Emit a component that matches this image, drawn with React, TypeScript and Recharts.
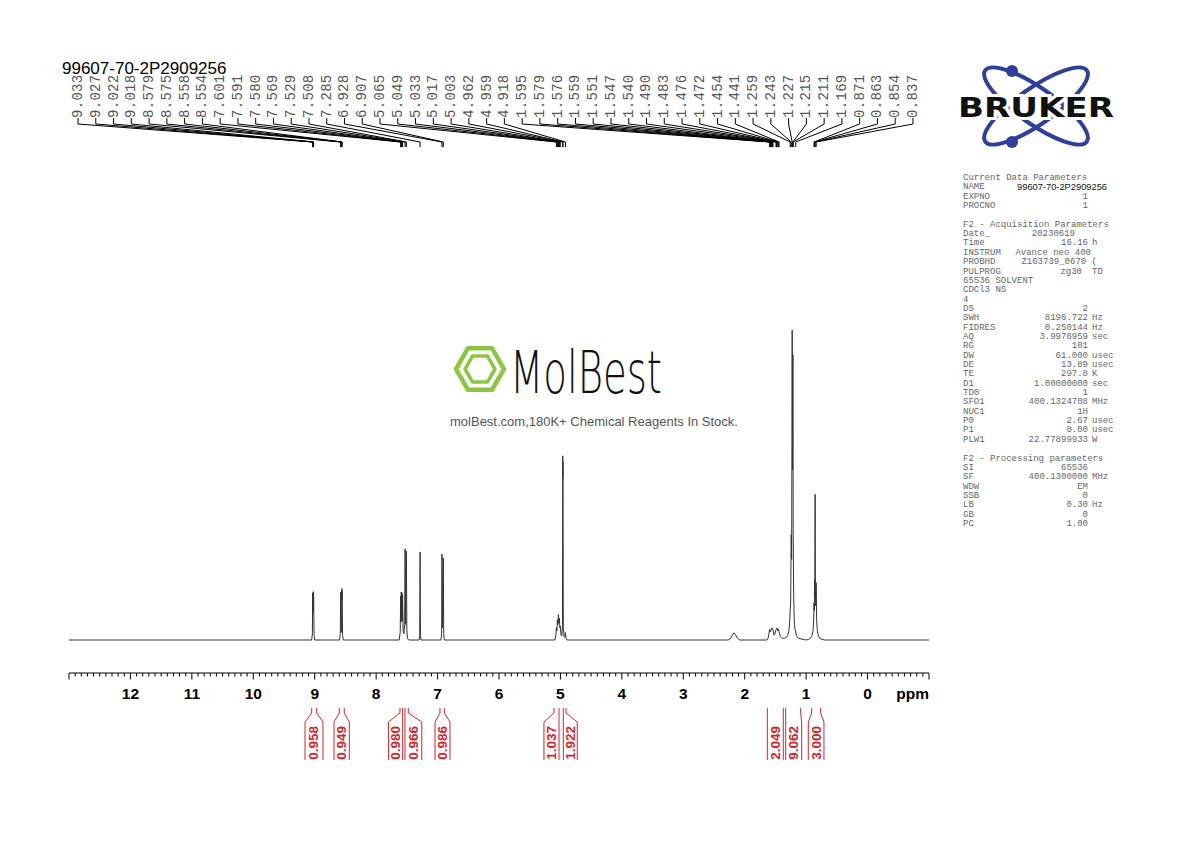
import { ComposedChart, Line, Scatter, XAxis, YAxis, ReferenceLine, ReferenceDot } from "recharts"

const sampleName = "99607-70-2P2909256"

// 1H trace: [ppm, intensity], 100 = the tallest line (1.227)
const trace: [number, number][] = [
  [13, 0],
  [9.05, 0], [9.038, 2], [9.033, 15.2], [9.03, 9], [9.027, 13.5], [9.024, 9], [9.022, 15.6], [9.02, 10], [9.018, 13.8], [9.01, 1.5], [9.0, 0],
  [8.595, 0], [8.584, 2], [8.579, 14.8], [8.577, 12], [8.575, 15.4], [8.568, 2.5], [8.562, 2.5], [8.558, 16.6], [8.556, 13], [8.554, 15.8], [8.546, 1.5], [8.535, 0],
  [7.625, 0], [7.608, 2.5], [7.601, 14.2], [7.596, 6], [7.591, 15.5], [7.585, 6], [7.58, 15.3], [7.575, 6], [7.569, 14.6], [7.56, 2.5],
  [7.548, 2], [7.535, 5], [7.529, 29.4], [7.52, 5], [7.508, 28.7], [7.5, 3], [7.49, 0.5], [7.47, 0],
  [7.3, 0], [7.291, 1.5], [7.285, 28.4], [7.279, 1.5], [7.27, 0],
  [6.945, 0], [6.934, 2], [6.928, 27.7], [6.918, 4], [6.907, 26.4], [6.9, 2], [6.89, 0],
  [5.09, 0], [5.075, 1.5], [5.065, 4], [5.057, 3], [5.049, 6.5], [5.041, 5], [5.033, 8.2], [5.025, 5.5], [5.017, 7], [5.01, 4], [5.003, 4.5], [4.99, 1.5],
  [4.975, 1.5], [4.967, 5], [4.962, 59.4], [4.9605, 52], [4.959, 57.5], [4.953, 4], [4.94, 1], [4.925, 1], [4.918, 2.4], [4.91, 0.6], [4.895, 0],
  [2.27, 0], [2.23, 0.5], [2.2, 1.6], [2.175, 2.3], [2.15, 1.7], [2.12, 0.6], [2.08, 0],
  [1.64, 0], [1.615, 0.8], [1.595, 3.4], [1.587, 2.6], [1.579, 3.1], [1.576, 3.0], [1.559, 3.9], [1.551, 3.4], [1.547, 3.6], [1.54, 3.2], [1.525, 1.6],
  [1.51, 1.8], [1.49, 3.4], [1.483, 3.5], [1.476, 3.9], [1.472, 3.8], [1.462, 3.0], [1.454, 3.5], [1.441, 2.7], [1.42, 1.1], [1.39, 0.5],
  [1.35, 0.6], [1.32, 0.9], [1.3, 1.5], [1.285, 2.6], [1.272, 4.5], [1.264, 7.5], [1.259, 10], [1.252, 12], [1.243, 34], [1.236, 26],
  [1.227, 100], [1.221, 55], [1.215, 92], [1.211, 36], [1.203, 14], [1.193, 6], [1.182, 3.5], [1.169, 2.6], [1.158, 1.4], [1.14, 0.8], [1.1, 0.4], [1.05, 0.2], [1.0, 0],
  [0.96, 0.2], [0.93, 0.6], [0.905, 1.4], [0.888, 3], [0.877, 6.5], [0.871, 12], [0.867, 9.5], [0.863, 19.5], [0.859, 14], [0.854, 47],
  [0.849, 15], [0.843, 11], [0.837, 18.5], [0.83, 7], [0.818, 3], [0.8, 1.3], [0.775, 0.5], [0.74, 0.2], [0.7, 0],
  [-1, 0],
]

// picked peaks, in the order printed across the top
const peakLabels = [
  "9.033", "9.027", "9.022", "9.018", "8.579", "8.575", "8.558", "8.554",
  "7.601", "7.591", "7.580", "7.569", "7.529", "7.508", "7.285", "6.928", "6.907",
  "5.065", "5.049", "5.033", "5.017", "5.003", "4.962", "4.959", "4.918",
  "1.595", "1.579", "1.576", "1.559", "1.551", "1.547", "1.540",
  "1.490", "1.483", "1.476", "1.472", "1.454", "1.441",
  "1.259", "1.243", "1.227", "1.215", "1.211", "1.169",
  "0.871", "0.863", "0.854", "0.837",
]

// integral regions (ppm) and the bracket's outer edges
const integrals = [
  { value: "0.958", from: 9.049, to: 8.968, outFrom: 9.158, outTo: 8.865 },
  { value: "0.949", from: 8.6, to: 8.519, outFrom: 8.686, outTo: 8.437 },
  { value: "0.980", from: 7.612, to: 7.568, outFrom: 7.8, outTo: 7.568 },
  { value: "0.966", from: 7.53, to: 7.477, outFrom: 7.53, outTo: 7.258 },
  { value: "0.986", from: 6.961, to: 6.89, outFrom: 7.042, outTo: 6.798 },
  { value: "1.037", from: 5.105, to: 5.023, outFrom: 5.268, outTo: 5.023 },
  { value: "1.922", from: 4.953, to: 4.909, outFrom: 4.953, outTo: 4.726 },
  { value: "2.049", from: 1.632, to: 1.372, outFrom: 1.632, outTo: 1.372 },
  { value: "9.062", from: 1.333, to: 1.089, outFrom: 1.333, outTo: 1.073 },
  { value: "3.000", from: 0.91, to: 0.764, outFrom: 0.965, outTo: 0.71 },
]

const params: [string, string, string][] = [
  ["Current Data Parameters", "", ""],
  ["NAME", sampleName, ""],
  ["EXPNO", "1", ""],
  ["PROCNO", "1", ""],
  ["", "", ""],
  ["F2 - Acquisition Parameters", "", ""],
  ["Date_", "20230619", ""],
  ["Time", "16.16", "h"],
  ["INSTRUM", "Avance neo 400", ""],
  ["PROBHD", "Z163739_0670 (", ""],
  ["PULPROG", "zg30", "TD"],
  ["65536 SOLVENT", "", ""],
  ["CDCl3 NS", "", ""],
  ["4", "", ""],
  ["DS", "2", ""],
  ["SWH", "8196.722", "Hz"],
  ["FIDRES", "0.250144", "Hz"],
  ["AQ", "3.9976959", "sec"],
  ["RG", "101", ""],
  ["DW", "61.000", "usec"],
  ["DE", "13.89", "usec"],
  ["TE", "297.8", "K"],
  ["D1", "1.00000000", "sec"],
  ["TD0", "1", ""],
  ["SFO1", "400.1324708", "MHz"],
  ["NUC1", "1H", ""],
  ["P0", "2.67", "usec"],
  ["P1", "8.00", "usec"],
  ["PLW1", "22.77899933", "W"],
  ["", "", ""],
  ["F2 - Processing parameters", "", ""],
  ["SI", "65536", ""],
  ["SF", "400.1300000", "MHz"],
  ["WDW", "EM", ""],
  ["SSB", "0", ""],
  ["LB", "0.30", "Hz"],
  ["GB", "0", ""],
  ["PC", "1.00", ""],
]
const valueEnd: Record<string, number> = { NAME: 1107, Date_: 1075, INSTRUM: 1091, PROBHD: 1097, PULPROG: 1082 }

// layout (data units): labels spread evenly across the top
const slotFirst = 12.853
const slotLast = -0.739
const labelBase = 168.4
const labelKnee = 166.45
const peakEnd = 160.65
const peakTip = 159.0
const intTop = -21.94
const intKnee = -23.55
const intFlare = -26.45
const intBottom = -38.7
const intText = -33.2
const red = "#d0262d"

const spectrum = trace.map(([x, y]) => ({ x, y }))
const slot = (i: number) => slotFirst + ((slotLast - slotFirst) * i) / (peakLabels.length - 1)
const labelPoints = peakLabels.map((label, i) => ({ x: slot(i), y: labelBase, label }))
const connectors = peakLabels.flatMap((label, i) => {
  const p = parseFloat(label)
  return [
    { x: slot(i), y: labelBase },
    { x: slot(i), y: labelKnee },
    { x: p, y: peakEnd },
    { x: p, y: peakTip },
    { x: p, y: null },
  ]
})
const ticks = Array.from({ length: 141 }, (_, i) => Math.round(-10 + i) / 10)

const PpmTick = (props: any) => {
  const { x, y, payload } = props
  const v = payload.value
  const major = Math.abs(v - Math.round(v)) < 1e-6
  return (
    <g>
      <line x1={x} x2={x} y1={y} y2={y + (major ? 6.5 : 3.5)} stroke="#000" strokeWidth={1} />
      {major && v >= 0 && v <= 12 && (
        <text x={x} y={y + 26} textAnchor="middle" fontFamily="Liberation Sans, Arial" fontWeight="bold" fontSize={15.5} fill="#000">
          {v}
        </text>
      )}
      {v === -1 && (
        <text x={x} y={y + 26} textAnchor="end" fontFamily="Liberation Sans, Arial" fontWeight="bold" fontSize={15.5} fill="#000">
          ppm
        </text>
      )}
    </g>
  )
}

const PeakLabel = (props: any) => {
  const { cx, cy, payload } = props
  return (
    <text x={cx} y={cy} transform={`rotate(-90 ${cx} ${cy})`} textAnchor="start" dominantBaseline="central"
      fontFamily="Liberation Mono, monospace" fontSize={14} letterSpacing={0.3} fill="#555">
      {payload.label}
    </text>
  )
}

function Decorations() {
  const hex = (cx: number, cy: number, r: number) =>
    [0, 60, 120, 180, 240, 300].map((a) => `${cx + r * Math.cos((a * Math.PI) / 180)},${cy + r * Math.sin((a * Math.PI) / 180)}`).join(" ")
  return (
    <svg width={1190} height={842} style={{ position: "absolute", left: 0, top: 0 }}>
      {/* Bruker logo */}
      <g fill="none" stroke="#2e3f9e" strokeWidth={4}>
        <ellipse cx={1036} cy={106} rx={62} ry={18} transform="rotate(35 1036 106)" />
        <ellipse cx={1036} cy={106} rx={62} ry={18} transform="rotate(-35 1036 106)" />
      </g>
      <circle cx={1012} cy={71} r={6} fill="#2e3f9e" />
      <circle cx={1012} cy={142} r={6} fill="#2e3f9e" />
      <text x={958} y={117} textLength={156} lengthAdjust="spacingAndGlyphs" fontFamily="DejaVu Sans" fontWeight="bold"
        fontSize={27} fill="#111" stroke="#fff" strokeWidth={6} paintOrder="stroke">BRUKER</text>

      {/* parameter listing */}
      <g fontFamily="Liberation Mono, monospace" fontSize={9} fill="#666">
        {params.map(([k, v, u], i) => {
          const y = 180 + i * 9.35
          return (
            <g key={i}>
              {k && <text x={963} y={y}>{k}</text>}
              {v && k === "NAME" && (
                <text x={1107} y={y + 0.5} textAnchor="end" fontFamily="Liberation Sans, Arial" fontSize={9.3} fill="#111">{v}</text>
              )}
              {v && k !== "NAME" && <text x={valueEnd[k] ?? 1088} y={y} textAnchor="end">{v}</text>}
              {u && <text x={1092} y={y}>{u}</text>}
            </g>
          )
        })}
      </g>

      {/* MolBest watermark */}
      <polygon points={hex(480, 369, 24)} fill="none" stroke="#8cc63f" strokeWidth={4.5} strokeLinejoin="round" />
      <polygon points={hex(480, 369, 15)} fill="none" stroke="#8cc63f" strokeWidth={3.5} strokeLinejoin="round" />
      <text x={510} y={393} textLength={152} lengthAdjust="spacingAndGlyphs" fontFamily="DejaVu Sans" fontWeight={300} fontSize={58} fill="#111">MolBest</text>
      <text x={594} y={426} textAnchor="middle" fontFamily="Liberation Sans, Arial" fontSize={13} fill="#555">
        molBest.com,180K+ Chemical Reagents In Stock.
      </text>
    </svg>
  )
}

export default function App() {
  return (
    <div style={{ position: "absolute", left: 0, top: 0, width: 1190, height: 842, background: "#fff" }}>
      <Decorations />
      <div style={{ position: "absolute", left: 0, top: 0 }}>
        <ComposedChart width={1190} height={842} margin={{ top: 60, right: 261, bottom: 139, left: 69 }}>
          <XAxis dataKey="x" type="number" domain={[-1, 13]} reversed ticks={ticks} interval={0} height={30}
            tickSize={0} tickMargin={0} tickLine={false} axisLine={{ stroke: "#000" }} tick={<PpmTick />} />
          <YAxis dataKey="y" type="number" domain={[-10.645, 187.1]} hide />
          <Line data={spectrum} dataKey="y" type="linear" stroke="#333" strokeWidth={1} dot={false} activeDot={false} isAnimationActive={false} />
          <Line data={connectors} dataKey="y" type="linear" stroke="#000" strokeWidth={1} dot={false} activeDot={false} connectNulls={false} isAnimationActive={false} />
          <Scatter data={labelPoints} dataKey="y" shape={<PeakLabel />} isAnimationActive={false} />
          {integrals.flatMap((g, i) => {
            const segs = [
              [g.from, intTop, g.from, intKnee], [g.from, intKnee, g.outFrom, intFlare], [g.outFrom, intFlare, g.outFrom, intBottom],
              [g.to, intTop, g.to, intKnee], [g.to, intKnee, g.outTo, intFlare], [g.outTo, intFlare, g.outTo, intBottom],
            ]
            return segs.map((s, j) => (
              <ReferenceLine key={`int-${i}-${j}`} segment={[{ x: s[0], y: s[1] }, { x: s[2], y: s[3] }]}
                stroke={red} strokeWidth={1} ifOverflow="visible" />
            ))
          })}
          {integrals.map((g, i) => (
            <ReferenceDot key={`intv-${i}`} x={(g.outFrom + g.outTo) / 2} y={intText} r={0} ifOverflow="visible"
              shape={(p: any) => (
                <text x={p.cx} y={p.cy} transform={`rotate(-90 ${p.cx} ${p.cy})`} textAnchor="middle" dominantBaseline="central"
                  fontFamily="Liberation Sans, Arial" fontWeight="bold" fontSize={13.5} fill={red}>
                  {g.value}
                </text>
              )} />
          ))}
        </ComposedChart>
      </div>
      <div style={{ position: "absolute", left: 62, top: 59, fontFamily: "Liberation Sans, Arial", fontSize: 17, color: "#000", lineHeight: "20px" }}>
        {sampleName}
      </div>
    </div>
  )
}
